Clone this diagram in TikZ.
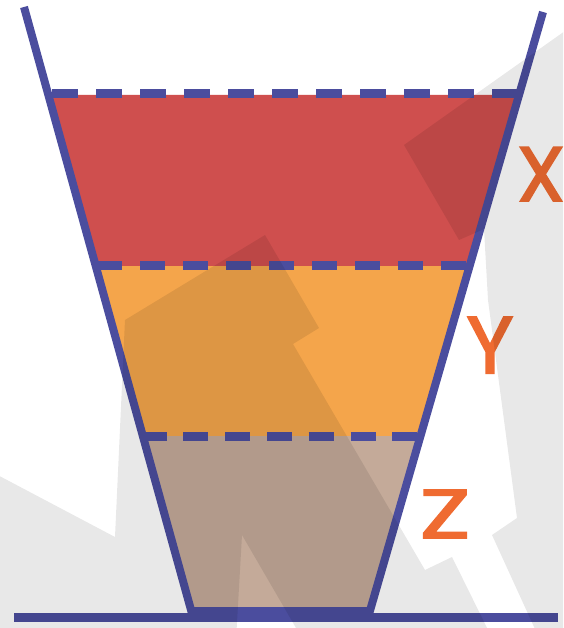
\documentclass[tikz,border=0pt]{standalone}
\usepackage{fontspec}
\newfontfamily\labelfont[FakeBold=2.5]{Poppins}
\definecolor{wallblue}{HTML}{4B4D9E}
\definecolor{xred}{HTML}{CF4F4E}
\definecolor{yorange}{HTML}{F4A54B}
\definecolor{zbrown}{HTML}{C4AA99}
\definecolor{labelorange}{HTML}{EF6B31}
\begin{document}
\begin{tikzpicture}[x=1pt,y=-1pt,
  wall/.style={draw=wallblue,line width=8pt,line join=miter},
  level/.style={draw=wallblue,line width=9pt},
  shade/.style={fill=black,fill opacity=0.09},
  lbl/.style={text=labelorange,inner sep=0pt,anchor=base}]
\useasboundingbox (0,0) rectangle (563,628);
\fill[white] (0,0) rectangle (563,628);
\clip (0,0) rectangle (563,628);
% layers
\fill[xred] (51.5,95) -- (519,95) -- (469.6,266) -- (98.7,266) -- cycle;
\fill[yorange] (98.7,266) -- (469.6,266) -- (420.5,436) -- (145.8,436) -- cycle;
\fill[zbrown] (145.8,436) -- (420.5,436) -- (369.9,611) -- (191.3,611) -- cycle;
% level lines
\draw[level,dash pattern=on 26pt off 18pt] (52,94) -- (519,94);
\draw[level,dash pattern=on 25pt off 18pt] (97,265.5) -- (469.6,265.5);
\draw[level,dash pattern=on 25pt off 16.8pt] (141.5,436) -- (420.5,436);
% container and base
\draw[wall] (24,7) -- (191.3,611) -- (369.9,611) -- (543,12);
\draw[draw=wallblue,line width=9pt] (14,617.5) -- (558,617.5);
% labels
\node[lbl,font=\labelfont\fontsize{77}{77}\selectfont] (x) at (541,201) {X};
\node[lbl,font=\labelfont\fontsize{80}{80}\selectfont] (y) at (490,373) {Y};
\node[lbl,font=\labelfont\fontsize{69}{69}\selectfont,xscale=1.35] (z) at (445,538) {Z};
% background watermark shapes
\fill[shade] (-10,471) -- (115,537) -- (125,320) -- (265,235) -- (319,328) -- (293,344)
  -- (425,570) -- (452,557) -- (493,640) -- (303,640) -- (242,535) -- (236,640)
  -- (-10,640) -- cycle;
\fill[shade] (620,-8) -- (404,145) -- (459,240) -- (484,229) -- (488,300) -- (517,518)
  -- (492,535) -- (540,640) -- (620,640) -- cycle;
\end{tikzpicture}
\end{document}
